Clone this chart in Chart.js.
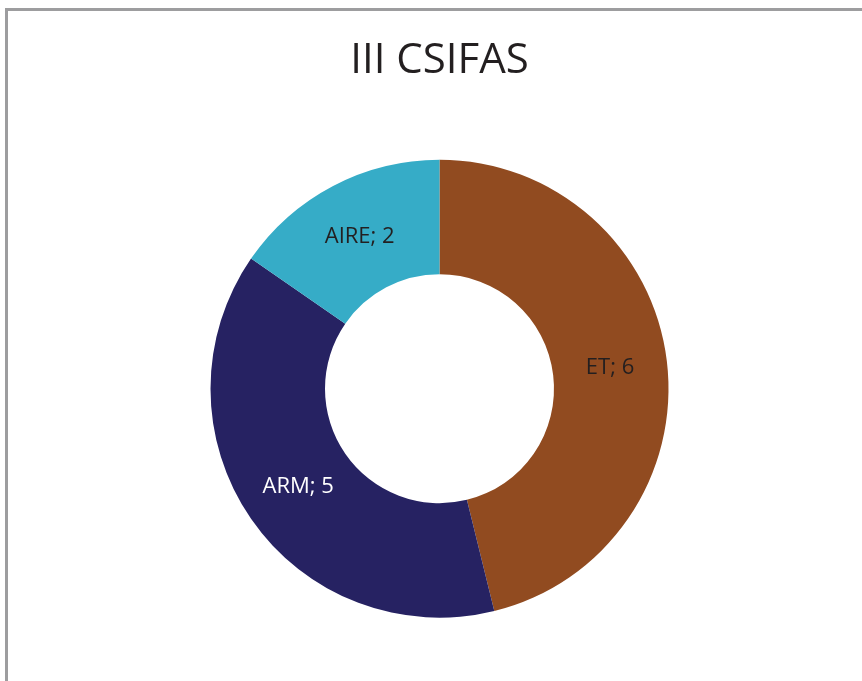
<!DOCTYPE html>
<html>
<head>
<meta charset="utf-8">
<script src="https://cdn.jsdelivr.net/npm/chart.js@4"></script>
<style>
  html, body { margin: 0; padding: 0; background: #fff; overflow: hidden; }
  #frame { position: absolute; left: 5px; top: 8px; width: 900px; height: 700px;
           border-top: 3px solid #9d9d9f; border-left: 3px solid #9d9d9f; }
  #wrap { position: absolute; left: 0; top: 0; width: 862px; height: 681px; }
</style>
</head>
<body>
<div id="frame"></div>
<div id="wrap"><canvas id="chart" width="862" height="681"></canvas></div>
<script>
const categories = ['ET', 'ARM', 'AIRE']
const values = [6, 5, 2]
const colors = ['#914b20', '#262262', '#36acc7']
const labelColors = ['#231f20', '#ffffff', '#231f20']

// draws "NAME; value" in the middle of each slice
const sliceLabels = {
  id: 'sliceLabels',
  afterDatasetsDraw(chart) {
    const ctx = chart.ctx
    const meta = chart.getDatasetMeta(0)
    ctx.save()
    ctx.font = '22px "Open Sans"'
    ctx.textAlign = 'center'
    ctx.textBaseline = 'middle'
    meta.data.forEach((arc, i) => {
      const p = arc.tooltipPosition()
      ctx.fillStyle = labelColors[i]
      ctx.fillText(categories[i] + '; ' + values[i], p.x, p.y)
    })
    ctx.restore()
  }
}

new Chart(document.getElementById('chart').getContext('2d'), {
  type: 'doughnut',
  data: {
    labels: categories,
    datasets: [{
      data: values,
      backgroundColor: colors,
      borderWidth: 0,
    }],
  },
  options: {
    responsive: false,
    animation: false,
    radius: 229,
    cutout: '50%',
    layout: { padding: { left: 17, bottom: 0 } },
    plugins: {
      legend: { display: false },
      tooltip: { enabled: false },
      title: {
        display: true,
        text: 'III CSIFAS',
        color: '#231f20',
        font: { family: 'Open Sans', size: 42, weight: 'normal' },
        padding: { top: 36, bottom: 10 },
      },
    },
  },
  plugins: [sliceLabels],
})
</script>
</body>
</html>
